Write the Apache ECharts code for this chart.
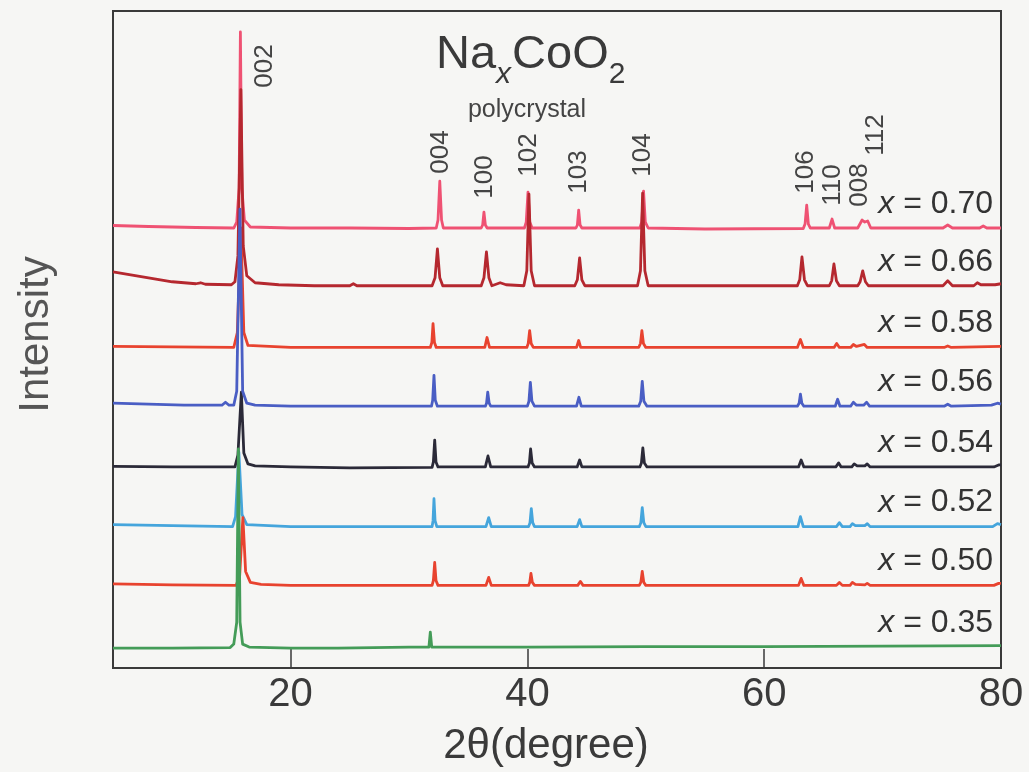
<!DOCTYPE html>
<html><head><meta charset="utf-8">
<script src="https://cdn.jsdelivr.net/npm/echarts@6/dist/echarts.min.js"></script>
<style>html,body{margin:0;padding:0;background:#f6f6f4}#c{width:1029px;height:772px}</style>
</head><body><div id="c"></div>
<script>
// ---------------- DATA ----------------
// x composition of each trace (top to bottom)
const sampleX = ['0.70', '0.66', '0.58', '0.56', '0.54', '0.52', '0.50', '0.35'];
// vertical offset (stacking) of each trace, arbitrary intensity units
const baselineOffset = [442, 384, 322, 263, 202, 142, 83, 21];
// each trace: [2θ (deg), intensity above its own baseline]
const x070 = [[5,2.5],[8,1.5],[12,0.5],[15.2,0],[15.45,6],[15.65,40],[15.76,197],[15.88,40],[16.1,8],[16.6,1],[20,0],[25,0],[30,-0.5],[32.3,0],[32.45,8],[32.6,47],[32.75,8],[32.9,0],[36.1,0],[36.22,3],[36.33,16],[36.45,3],[36.6,0],[39.75,0],[39.9,6],[40.05,36],[40.2,6],[40.4,0],[44.1,0],[44.22,3],[44.33,18],[44.45,3],[44.6,0],[49.5,0],[49.66,6],[49.81,37],[49.96,6],[50.2,0],[55,-1],[63.3,-0.5],[63.45,4],[63.59,23],[63.73,4],[63.9,0],[65.5,0],[65.73,9],[65.95,0],[67.9,0],[68.27,8],[68.5,6],[68.74,7],[69.0,0],[75.1,0],[75.5,3],[75.9,0],[78.2,0],[78.5,2],[78.8,0],[80,0]];
const x066 = [[5,14],[6.5,11],[8,8],[10,4],[12,2],[12.4,3],[12.8,1.5],[15,1],[15.3,4],[15.55,30],[15.8,197],[16.0,40],[16.3,10],[17,3],[19,1],[22,0],[25,0],[25.3,2],[25.6,0],[30,0],[31.95,0],[32.2,8],[32.4,37],[32.6,8],[32.85,0],[36.1,0],[36.33,8],[36.54,34],[36.75,8],[37.0,0],[37.7,3],[38.2,1],[39.7,0],[39.95,15],[40.13,92],[40.32,15],[40.6,0],[44.0,0],[44.22,6],[44.41,28],[44.6,6],[44.85,0],[49.3,0],[49.55,15],[49.73,93],[49.92,15],[50.2,0],[55,0],[62.8,0],[63.0,6],[63.19,29],[63.4,6],[63.65,0],[65.5,0],[65.7,5],[65.89,22],[66.1,5],[66.35,0],[67.9,0],[68.1,4],[68.32,15],[68.55,4],[68.8,0],[75.1,0],[75.5,5],[75.9,0],[77.7,0],[78.0,3],[78.3,1],[79.5,1],[80,2]];
const x058 = [[5,1],[10,0.5],[15.2,0],[15.5,15],[15.8,120],[16.05,15],[16.4,2],[20,0],[31.8,0],[31.93,5],[32.03,24],[32.15,5],[32.3,0],[36.4,0],[36.59,10],[36.8,0],[39.95,0],[40.07,4],[40.19,17],[40.32,4],[40.5,0],[44.15,0],[44.33,7],[44.5,0],[49.4,0],[49.55,4],[49.67,17],[49.8,4],[50.0,0],[62.8,0],[63.06,8],[63.3,0],[65.9,0],[66.12,4],[66.35,0],[67.3,0],[67.53,3],[67.8,1],[68.46,3],[68.7,0],[75.2,0],[75.5,1.5],[75.8,0],[80,1]];
const x056 = [[5,3],[8,2],[11,1],[14.2,1],[14.5,4],[14.8,1],[15.2,1],[15.45,15],[15.72,198],[15.95,15],[16.3,3],[17,1],[20,0],[31.9,0],[32.0,6],[32.11,31],[32.22,6],[32.4,0],[36.45,0],[36.55,3],[36.65,14],[36.77,3],[36.9,0],[40.0,0],[40.13,5],[40.25,24],[40.38,5],[40.6,0],[44.15,0],[44.35,9],[44.55,0],[49.4,0],[49.57,5],[49.70,25],[49.84,5],[50.1,0],[62.8,0],[62.95,3],[63.06,12],[63.18,3],[63.35,0],[66.0,0],[66.2,7],[66.4,0],[67.3,0],[67.53,4],[67.8,1],[68.4,1],[68.65,4],[68.9,0],[75.2,0],[75.5,2],[75.8,0],[79.2,1],[79.7,3],[80,2]];
const x054 = [[5,0.5],[10,0],[15.3,0],[15.55,12],[15.84,75],[16.05,14],[16.4,3],[17,1],[20,0],[25,-1],[31.95,-0.5],[32.06,5],[32.17,27],[32.28,5],[32.45,0],[36.45,0],[36.67,11],[36.9,0],[40.05,0],[40.17,4],[40.27,18],[40.4,4],[40.6,0],[44.2,0],[44.41,7],[44.6,0],[49.5,0],[49.63,4],[49.75,19],[49.88,4],[50.1,0],[62.9,0],[63.12,7],[63.35,0],[66.05,0],[66.29,4],[66.5,0],[67.4,0],[67.6,3],[67.85,1],[68.5,1],[68.7,3],[68.95,0],[79.4,0],[79.8,2],[80,2]];
const x052 = [[5,2],[10,1],[15.1,0],[15.35,10],[15.63,75],[15.9,12],[16.3,2],[20,0],[31.95,0],[32.03,6],[32.11,28],[32.2,6],[32.35,0],[36.5,0],[36.73,9],[36.95,0],[40.1,0],[40.22,4],[40.33,18],[40.45,4],[40.6,0],[44.2,0],[44.41,7],[44.6,0],[49.45,0],[49.58,4],[49.70,19],[49.83,4],[50.0,0],[62.85,0],[63.06,10],[63.3,0],[66.1,0],[66.35,4],[66.6,0],[67.25,0],[67.45,3],[67.7,1],[68.5,1],[68.71,3],[68.95,0],[79.3,0],[79.7,3],[80,2]];
const x050 = [[5,1.5],[10,0.5],[15.4,0],[15.7,10],[15.97,68],[16.2,14],[16.6,3],[17.5,1],[20,0],[31.95,0],[32.06,5],[32.17,23],[32.28,5],[32.45,0],[36.5,0],[36.73,8],[36.95,0],[40.1,0],[40.2,3],[40.30,12],[40.42,3],[40.6,0],[44.25,0],[44.47,4],[44.7,0],[49.45,0],[49.58,3],[49.70,14],[49.83,3],[50.0,0],[62.9,0],[63.12,7],[63.35,0],[66.1,0],[66.35,3],[66.6,0],[67.25,0],[67.45,3],[67.7,1],[68.5,0.5],[68.7,2],[68.95,0],[79.4,0],[79.8,2],[80,2]];
const x035 = [[5,-1],[10,-1],[14.9,-0.5],[15.2,3],[15.45,25],[15.59,199],[15.73,25],[15.95,3],[16.5,0],[20,-1],[24,-1],[30,0],[31.68,0],[31.8,15],[31.92,0],[40,0],[50,0.5],[60,0.5],[70,1],[80,1.5]];
const traces = [x070, x066, x058, x056, x054, x052, x050, x035];
// Miller-index labels and the 2θ where each label sits
const hklLabels = ['002', '004', '100', '102', '103', '104', '106', '110', '008', '112'];
const hklLabelAt = [17.83, 32.68, 36.39, 40.11, 44.32, 49.73, 63.48, 65.76, 68.04, 69.47];
const xTickValues = [20, 40, 60, 80];

// ---------------- STYLE / LAYOUT ----------------
const FONT = '"Liberation Sans", Arial, Helvetica, sans-serif';
const colors = ['#ef5273', '#b5282f', '#e8432f', '#4a5ec4', '#2b2a38', '#45a5dc', '#e8432f', '#449c58'];
const drawOrder = [2, 5, 6, 4, 0, 1, 3, 7];
const hklLabelY = [66, 152, 177, 155, 172, 155, 172, 185, 185, 135];
const TEXT = '#3a3a3a';

const chart = echarts.init(document.getElementById('c'));
chart.setOption({
  backgroundColor: '#f6f6f4',
  animation: false,
  grid: { left: 113, right: 28, top: 11, bottom: 101, show: true, borderColor: '#3a3a3a', borderWidth: 2, backgroundColor: 'transparent' },
  xAxis: {
    type: 'value', min: 5, max: 80,
    name: '2θ(degree)', nameLocation: 'middle', nameGap: 57,
    nameTextStyle: { fontSize: 42, fontFamily: FONT, color: TEXT, padding: [0, 22, 0, 0] },
    axisLine: { show: true, onZero: false, lineStyle: { color: '#3a3a3a', width: 2 } },
    axisTick: { show: true, inside: true, length: 19, customValues: xTickValues, lineStyle: { color: '#3a3a3a', width: 1.5 } },
    axisLabel: { show: true, customValues: xTickValues, fontSize: 40, fontFamily: FONT, color: TEXT, margin: 7 },
    splitLine: { show: false }
  },
  yAxis: {
    type: 'value', min: 0, max: 660,
    name: 'Intensity', nameLocation: 'middle', nameGap: 56,
    nameTextStyle: { fontSize: 42, fontFamily: FONT, color: '#555', padding: [0, 0, 0, 10] },
    axisLine: { show: true, lineStyle: { color: '#3a3a3a', width: 2 } },
    axisTick: { show: false }, axisLabel: { show: false }, splitLine: { show: false }
  },
  series: drawOrder.map(i => ({
    type: 'line', name: 'x = ' + sampleX[i], showSymbol: false, symbol: 'none',
    clip: true, z: 2,
    lineStyle: { color: colors[i], width: 2.8, join: 'round' },
    data: traces[i].map(p => [p[0], p[1] + baselineOffset[i]])
  }))
});

// text measurement for the chemical-formula title
const ctx = document.createElement('canvas').getContext('2d');
function tw(t, font) { ctx.font = font; return ctx.measureText(t).width; }

const graphics = [];
const F_MAIN = '47px ' + FONT, F_SUB = '30px ' + FONT, F_SUBI = 'italic 30px ' + FONT;
const titleParts = [['Na', F_MAIN, 55.5], ['x', F_SUBI, 75], ['CoO', F_MAIN, 55.5], ['2', F_SUB, 75]];
let tx = 436;
titleParts.forEach(([t, f, y]) => {
  graphics.push({ type: 'text', x: tx, y: y, style: { text: t, align: 'left', verticalAlign: 'middle', font: f, fill: TEXT } });
  tx += tw(t, f) + (t === 'x' ? 1 : 0);
});
graphics.push({ type: 'text', x: 527, y: 110, style: { text: 'polycrystal', align: 'center', verticalAlign: 'middle', font: '25px ' + FONT, fill: '#444' } });
hklLabels.forEach((t, k) => {
  const px = chart.convertToPixel({ xAxisIndex: 0 }, hklLabelAt[k]);
  graphics.push({ type: 'text', x: px, y: hklLabelY[k], rotation: Math.PI / 2,
    style: { text: t, align: 'center', verticalAlign: 'middle', font: '26px ' + FONT, fill: '#444' } });
});
sampleX.forEach((v, i) => {
  const py = chart.convertToPixel({ yAxisIndex: 0 }, baselineOffset[i]);
  graphics.push({ type: 'text', x: 993, y: py - 24,
    style: { text: '{i|x} = ' + v, align: 'right', verticalAlign: 'middle', font: '32px ' + FONT, fill: '#333',
      rich: { i: { fontStyle: 'italic', fontSize: 32, fontFamily: FONT, fill: '#333' } } } });
});
chart.setOption({ graphic: graphics });
</script></body></html>
